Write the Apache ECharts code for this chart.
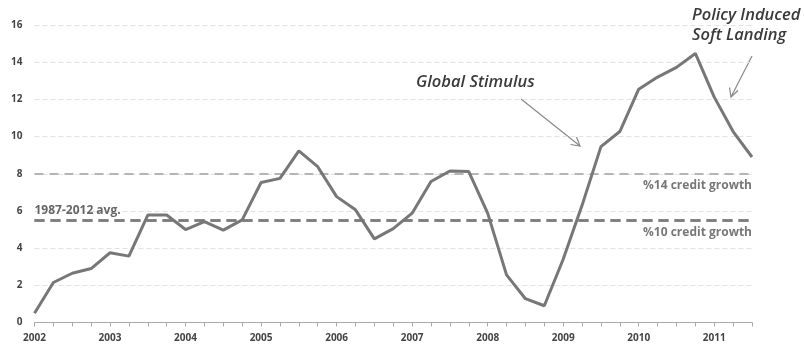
<!DOCTYPE html>
<html>
<head>
<meta charset="utf-8">
<script src="https://cdn.jsdelivr.net/npm/echarts@6/dist/echarts.min.js"></script>
<style>
  html, body { margin: 0; padding: 0; background: #fff; }
  #chart { width: 804px; height: 345px; }
</style>
</head>
<body>
<div id="chart"></div>
<script>
// Quarterly series, 2002 Q1 through 2011 Q3
const yearLabels = ['2002', '2003', '2004', '2005', '2006', '2007', '2008', '2009', '2010', '2011'];
const quarters = ['Q1', 'Q2', 'Q3', 'Q4'];
const growth = [
  0.5, 2.15, 2.65, 2.9, 3.75, 3.57, 5.78, 5.78,
  5.0, 5.42, 4.97, 5.52, 7.53, 7.75, 9.23, 8.38,
  6.77, 6.06, 4.5, 5.05, 5.88, 7.58, 8.15, 8.12,
  5.88, 2.56, 1.28, 0.9, 3.4, 6.3, 9.46, 10.27,
  12.55, 13.2, 13.72, 14.47, 12.12, 10.27, 8.9
];
const yTicks = [0, 2, 4, 6, 8, 10, 12, 14, 16];
const refHigh = 8;    // 14% credit growth level
const refAvg = 5.5;   // 1987-2012 average

const categories = [];
yearLabels.forEach(y => quarters.forEach(q => {
  if (categories.length < growth.length) categories.push(y + ' ' + q);
}));

const chart = echarts.init(document.getElementById('chart'));
const font = '"Open Sans", "DejaVu Sans", sans-serif';

chart.setOption({
  animation: false,
  backgroundColor: '#fff',
  grid: { left: 34.5, right: 52, top: 25, bottom: 22.5 },
  xAxis: {
    type: 'category',
    data: categories,
    boundaryGap: false,
    axisLine: { lineStyle: { color: '#a8a8a8', width: 1 } },
    axisTick: { interval: 0, length: 4, lineStyle: { color: '#a8a8a8' } },
    axisLabel: {
      interval: 3,
      margin: 11,
      color: '#444',
      fontFamily: font,
      fontSize: 10,
      fontWeight: 'bold',
      formatter: v => v.split(' ')[0]
    },
    splitLine: { show: false }
  },
  yAxis: {
    type: 'value',
    min: yTicks[0],
    max: yTicks[yTicks.length - 1],
    interval: 2,
    axisLine: { show: false },
    axisTick: { show: false },
    axisLabel: {
      color: '#444',
      fontFamily: font,
      fontSize: 10,
      fontWeight: 'bold',
      margin: 12
    },
    splitLine: { lineStyle: { color: '#e2e2e2', type: [5, 3], width: 1 } }
  },
  series: [{
    type: 'line',
    data: growth,
    symbol: 'none',
    lineStyle: { color: '#777', width: 3 },
    z: 5,
    markLine: {
      silent: true,
      symbol: 'none',
      z: 3,
      data: [
        {
          yAxis: refHigh,
          lineStyle: { color: '#b5b5b5', type: [9, 6], width: 2 },
          label: {
            show: true, position: 'insideEndBottom', distance: [0, 6],
            formatter: '%14 credit growth',
            color: '#777', fontFamily: font, fontSize: 12, fontWeight: 'bold'
          }
        },
        {
          yAxis: refAvg,
          lineStyle: { color: '#7c7c7c', type: [10, 6], width: 2.5 },
          label: {
            show: true, position: 'insideStartTop', distance: [0, 4],
            formatter: '1987-2012 avg.',
            color: '#666', fontFamily: font, fontSize: 12, fontWeight: 'bold'
          }
        },
        {
          yAxis: refAvg,
          lineStyle: { color: '#7c7c7c', type: [10, 6], width: 2.5 },
          label: {
            show: true, position: 'insideEndBottom', distance: [0, 6],
            formatter: '%10 credit growth',
            color: '#777', fontFamily: font, fontSize: 12, fontWeight: 'bold'
          }
        }
      ]
    }
  }],
  graphic: [
    {
      type: 'text', left: 416, top: 74,
      style: {
        text: 'Global Stimulus', fill: '#3a3a3a',
        font: 'italic 600 16.5px ' + font
      }
    },
    {
      type: 'line',
      shape: { x1: 521, y1: 99, x2: 580, y2: 146 },
      style: { stroke: '#888', lineWidth: 1.2 }
    },
    {
      type: 'polyline',
      shape: { points: [[570.5, 144.5], [580, 146], [576.5, 137]] },
      style: { stroke: '#888', lineWidth: 1.2, fill: null }
    },
    {
      type: 'text', left: 692, top: 5,
      style: {
        text: 'Policy Induced\nSoft Landing', fill: '#3a3a3a',
        font: 'italic 600 16.5px ' + font, lineHeight: 20
      }
    },
    {
      type: 'line',
      shape: { x1: 752, y1: 56, x2: 731, y2: 97 },
      style: { stroke: '#888', lineWidth: 1.2 }
    },
    {
      type: 'polyline',
      shape: { points: [[729.5, 87.5], [731, 97], [738, 90.5]] },
      style: { stroke: '#888', lineWidth: 1.2, fill: null }
    }
  ]
});
</script>
</body>
</html>
